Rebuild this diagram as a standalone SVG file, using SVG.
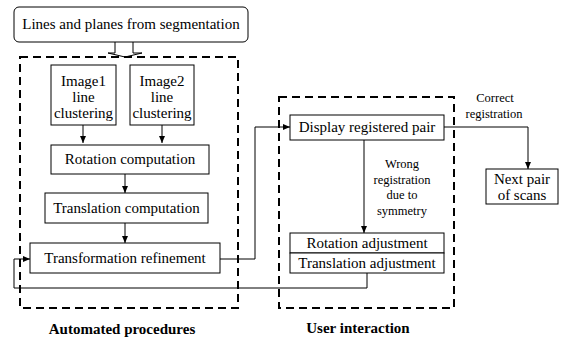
<svg xmlns="http://www.w3.org/2000/svg" width="563" height="341" viewBox="0 0 563 341" font-family="Times New Roman">
<defs>
<marker id="ah" markerWidth="7" markerHeight="6" refX="7" refY="3" orient="auto" markerUnits="userSpaceOnUse">
<path d="M0,0 L7,3 L0,6 Z" fill="#000"/>
</marker>
</defs>
<style>
.box{fill:#fff;stroke:#000;stroke-width:1}
.dash{fill:none;stroke:#000;stroke-width:2;stroke-dasharray:8,5}
.c{fill:none;stroke:#000;stroke-width:1}
</style>
<rect width="563" height="341" fill="#fff"/>
<g id="groups">
<rect class="dash" x="20" y="57" width="218" height="251"/>
<rect class="dash" x="279" y="97" width="175" height="211"/>
<text font-family="Times New Roman" font-size="15" font-weight="bold" text-anchor="middle" x="122" y="334">Automated procedures</text>
<text font-family="Times New Roman" font-size="15" font-weight="bold" text-anchor="middle" x="358" y="333">User interaction</text>
</g>
<g id="connectors">
<path class="c" d="M115,42 V53 H108 L125,57 L142,53 H133 V42" fill="#fff"/>
<path class="c" d="M83,125 V143" marker-end="url(#ah)"/>
<path class="c" d="M162,125 V143" marker-end="url(#ah)"/>
<path class="c" d="M125,174 V193" marker-end="url(#ah)"/>
<path class="c" d="M125,223 V243" marker-end="url(#ah)"/>
<path class="c" d="M220,259 H255 V127 H290" marker-end="url(#ah)"/>
<path class="c" d="M364,140 V233" marker-end="url(#ah)"/>
<path class="c" d="M444,127 H528 V169" marker-end="url(#ah)"/>
<path class="c" d="M367,273 V288 H14 V259 H30" marker-end="url(#ah)"/>
<text font-family="Times New Roman" font-size="12.5" text-anchor="middle" x="402" y="168">Wrong</text>
<text font-family="Times New Roman" font-size="12.5" text-anchor="middle" x="402" y="184">registration</text>
<text font-family="Times New Roman" font-size="12.5" text-anchor="middle" x="402" y="199">due to</text>
<text font-family="Times New Roman" font-size="12.5" text-anchor="middle" x="402" y="215">symmetry</text>
<text font-family="Times New Roman" font-size="12.5" text-anchor="middle" x="495" y="102">Correct</text>
<text font-family="Times New Roman" font-size="12.5" text-anchor="middle" x="494" y="118">registration</text>
</g>
<g id="n-source">
<rect class="box" x="14" y="7" width="234" height="35" rx="5"/>
<text font-family="Times New Roman" font-size="15" text-anchor="middle" x="131" y="29">Lines and planes from segmentation</text>
</g>
<g id="n-img1">
<rect class="box" x="51" y="65" width="65" height="60"/>
<text font-family="Times New Roman" font-size="15" text-anchor="middle" x="83.5" y="86">Image1</text>
<text font-family="Times New Roman" font-size="15" text-anchor="middle" x="83.5" y="102">line</text>
<text font-family="Times New Roman" font-size="15" text-anchor="middle" x="83.5" y="118">clustering</text>
</g>
<g id="n-img2">
<rect class="box" x="130" y="65" width="64" height="60"/>
<text font-family="Times New Roman" font-size="15" text-anchor="middle" x="162" y="86">Image2</text>
<text font-family="Times New Roman" font-size="15" text-anchor="middle" x="162" y="102">line</text>
<text font-family="Times New Roman" font-size="15" text-anchor="middle" x="162" y="118">clustering</text>
</g>
<g id="n-rot">
<rect class="box" x="51" y="145" width="158" height="29"/>
<text font-family="Times New Roman" font-size="15" text-anchor="middle" x="130" y="164">Rotation computation</text>
</g>
<g id="n-trans">
<rect class="box" x="45" y="193" width="163" height="30"/>
<text font-family="Times New Roman" font-size="15" text-anchor="middle" x="126.5" y="213">Translation computation</text>
</g>
<g id="n-refine">
<rect class="box" x="30" y="243" width="190" height="30"/>
<text font-family="Times New Roman" font-size="15" text-anchor="middle" x="125" y="263">Transformation refinement</text>
</g>
<g id="n-display">
<rect class="box" x="290" y="115" width="154" height="25"/>
<text font-family="Times New Roman" font-size="15" text-anchor="middle" x="367" y="132">Display registered pair</text>
</g>
<g id="n-adjust">
<rect class="box" x="290" y="233" width="154" height="20"/>
<text font-family="Times New Roman" font-size="15" text-anchor="middle" x="367" y="248">Rotation adjustment</text>
<rect class="box" x="290" y="253" width="154" height="20"/>
<text font-family="Times New Roman" font-size="15" text-anchor="middle" x="367" y="268">Translation adjustment</text>
</g>
<g id="n-next">
<rect class="box" x="486" y="169" width="72" height="35"/>
<text font-family="Times New Roman" font-size="15" text-anchor="middle" x="522" y="184">Next pair</text>
<text font-family="Times New Roman" font-size="15" text-anchor="middle" x="522" y="200">of scans</text>
</g>
</svg>
